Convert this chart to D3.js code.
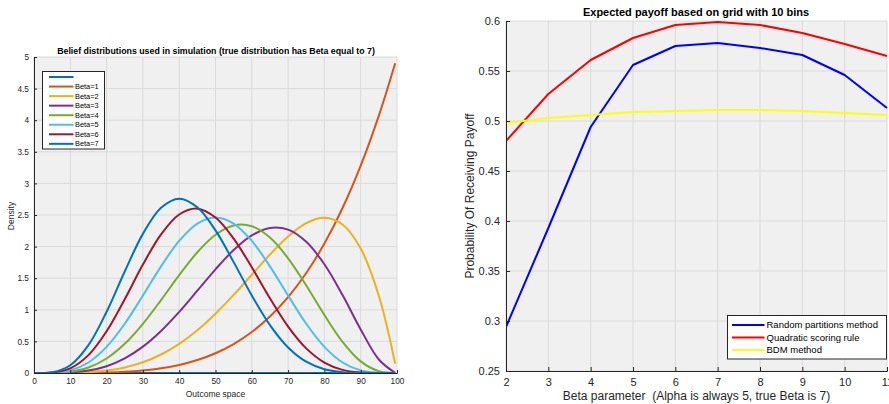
<!DOCTYPE html>
<html>
<head>
<meta charset="utf-8">
<script src="https://cdn.jsdelivr.net/npm/d3@7"></script>
<style>
  html, body { margin: 0; padding: 0; background: #fff; }
  svg { display: block; font-family: "Liberation Sans", Arial, Helvetica, sans-serif; }
  .pre { white-space: pre; }
</style>
</head>
<body>
<svg id="chart" width="889" height="404"></svg>
<script>
// ---------- Left chart data (belief densities over outcome space) ----------
const outcomeX = [0, 5, 10, 15, 20, 25, 30, 35, 40, 45, 50, 55, 60, 65, 70, 75, 80, 85, 90, 95, 99.5];
const betaBlank = [0,0,0,0,0,0,0,0,0,0,0,0,0,0,0,0,0,0,0,0,0];
const beta1 = [0, 0.00003, 0.0005, 0.0025, 0.008, 0.0195, 0.0405, 0.075, 0.128, 0.205, 0.3125, 0.4575, 0.648, 0.8925, 1.2005, 1.582, 2.048, 2.610, 3.2805, 4.0725, 4.9008];
const beta2 = [0, 0.00018, 0.0027, 0.0129, 0.0384, 0.0879, 0.1701, 0.2926, 0.4608, 0.6766, 0.9375, 1.2353, 1.5552, 1.8743, 2.1609, 2.3730, 2.4576, 2.3490, 1.9683, 1.2218, 0.1470];
const beta3 = [0, 0.0006, 0.0085, 0.0384, 0.1075, 0.2307, 0.4167, 0.6657, 0.9677, 1.3025, 1.6406, 1.9456, 2.1773, 2.2960, 2.2689, 2.0764, 1.7203, 1.2332, 0.6889, 0.2138, 0.0026];
const beta4 = [0, 0.0015, 0.0204, 0.0871, 0.2294, 0.4614, 0.7779, 1.1539, 1.5483, 1.9103, 2.1875, 2.3348, 2.3224, 2.1430, 1.8152, 1.3843, 0.9175, 0.4933, 0.1837, 0.0285, 0.0000];
const beta5 = [0, 0.0032, 0.0413, 0.1665, 0.4129, 0.7787, 1.2252, 1.6876, 2.0902, 2.3640, 2.4609, 2.3640, 2.0902, 1.6876, 1.2252, 0.7787, 0.4129, 0.1665, 0.0413, 0.0032, 0];
const beta6 = [0, 0.0061, 0.0744, 0.2830, 0.6606, 1.1680, 1.7153, 2.1939, 2.5082, 2.6005, 2.4609, 2.1272, 1.6721, 1.1813, 0.7351, 0.3895, 0.1652, 0.0499, 0.0083, 0.0003, 0];
const beta7 = [0, 0.0106, 0.1228, 0.4411, 0.9689, 1.6060, 2.2013, 2.6144, 2.7590, 2.6220, 2.2559, 1.7544, 1.2262, 0.7579, 0.4043, 0.1783, 0.0606, 0.0137, 0.0015, 0, 0];
const leftNames = ["", "Beta=1", "Beta=2", "Beta=3", "Beta=4", "Beta=5", "Beta=6", "Beta=7"];
const leftColors = ["#0072BD", "#D95319", "#EDB120", "#7E2F8E", "#77AC30", "#4DBEEE", "#A2142F", "#0072BD"];
const leftSeries = [betaBlank, beta1, beta2, beta3, beta4, beta5, beta6, beta7];
const leftXTicks = [0, 10, 20, 30, 40, 50, 60, 70, 80, 90, 100];
const leftYTicks = [0, 0.5, 1, 1.5, 2, 2.5, 3, 3.5, 4, 4.5, 5];

// ---------- Right chart data (expected payoff) ----------
const betaParam = [2, 3, 4, 5, 6, 7, 8, 9, 10, 11];
const randomPartitions = [0.294, 0.393, 0.494, 0.556, 0.575, 0.578, 0.573, 0.566, 0.546, 0.513];
const quadraticRule = [0.480, 0.527, 0.561, 0.583, 0.596, 0.599, 0.596, 0.588, 0.577, 0.565];
const bdmMethod = [0.498, 0.503, 0.506, 0.509, 0.510, 0.511, 0.511, 0.510, 0.508, 0.506];
const rightNames = ["Random partitions method", "Quadratic scoring rule", "BDM method"];
const rightColors = ["#0000FF", "#FF0000", "#FFFF00"];
const rightSeries = [randomPartitions, quadraticRule, bdmMethod];
const rightXTicks = [2, 3, 4, 5, 6, 7, 8, 9, 10, 11];
const rightYTicks = [0.25, 0.3, 0.35, 0.4, 0.45, 0.5, 0.55, 0.6];

const svg = d3.select("#chart");
const AX = "#262626";

function panel(cfg) {
  const g = svg.append("g");
  const x = d3.scaleLinear().domain(cfg.xDomain).range([cfg.left, cfg.right]);
  const y = d3.scaleLinear().domain(cfg.yDomain).range([cfg.bottom, cfg.top]);
  const clipId = "clip" + cfg.id;
  svg.append("clipPath").attr("id", clipId).append("rect")
    .attr("x", cfg.left).attr("y", cfg.top - 2)
    .attr("width", cfg.right - cfg.left + 2).attr("height", cfg.bottom - cfg.top + 2);

  g.append("rect").attr("x", cfg.left).attr("y", cfg.top)
    .attr("width", cfg.right - cfg.left).attr("height", cfg.bottom - cfg.top)
    .attr("fill", "#f0f0f0");
  // grid
  g.append("g").selectAll("line").data(cfg.xTicks).join("line")
    .attr("x1", d => x(d)).attr("x2", d => x(d))
    .attr("y1", cfg.top).attr("y2", cfg.bottom)
    .attr("stroke", "#dadada").attr("stroke-width", 1);
  g.append("g").selectAll("line").data(cfg.yTicks).join("line")
    .attr("y1", d => y(d)).attr("y2", d => y(d))
    .attr("x1", cfg.left).attr("x2", cfg.right)
    .attr("stroke", "#dadada").attr("stroke-width", 1);

  // lines
  const line = d3.line().curve(cfg.curve)
    .x(d => x(d[0])).y(d => y(Math.max(0, d[1])));
  const lg = g.append("g").attr("clip-path", `url(#${clipId})`);
  cfg.series.forEach((s, i) => {
    lg.append("path")
      .datum(cfg.xs.map((xv, j) => [xv, s[j]]))
      .attr("fill", "none").attr("stroke", cfg.colors[i])
      .attr("stroke-width", cfg.lw).attr("stroke-linejoin", "round")
      .attr("d", line);
  });

  // axes
  const xa = d3.axisBottom(x).tickValues(cfg.xTicks).tickSize(-cfg.tick).tickPadding(cfg.xPad)
    .tickFormat(d3.format("~g"));
  const ya = d3.axisLeft(y).tickValues(cfg.yTicks).tickSize(-cfg.tick).tickPadding(cfg.yPad)
    .tickFormat(d3.format("~g"));
  const gx = g.append("g").attr("transform", `translate(0,${cfg.bottom})`).call(xa);
  const gy = g.append("g").attr("transform", `translate(${cfg.left},0)`).call(ya);
  [gx, gy].forEach(a => {
    a.select(".domain").attr("stroke", AX).attr("stroke-width", 1);
    a.selectAll(".tick line").attr("stroke", AX);
    a.selectAll("text").attr("fill", AX).attr("font-size", cfg.fs)
      .attr("font-family", '"Liberation Sans", Arial, sans-serif');
  });

  // title & labels
  g.append("text").attr("x", cfg.titleX).attr("y", cfg.titleY)
    .attr("text-anchor", "middle").attr("font-weight", "bold")
    .attr("font-size", cfg.titleFs).attr("fill", "#000").text(cfg.title);
  g.append("text").attr("class", "pre").attr("x", (cfg.left + cfg.xLabelCx)).attr("y", cfg.xLabelY)
    .attr("text-anchor", "middle").attr("font-size", cfg.labelFs).attr("fill", AX)
    .text(cfg.xLabel);
  g.append("text").attr("transform", `translate(${cfg.yLabelX},${cfg.yLabelCy}) rotate(-90)`)
    .attr("text-anchor", "middle").attr("font-size", cfg.labelFs).attr("fill", AX)
    .text(cfg.yLabel);

  // legend
  const L = cfg.legend;
  const leg = g.append("g");
  leg.append("rect").attr("x", L.x).attr("y", L.y).attr("width", L.w).attr("height", L.h)
    .attr("fill", "#fff").attr("stroke", AX).attr("stroke-width", 1);
  cfg.names.forEach((n, i) => {
    const yy = L.y + L.first + i * L.step;
    leg.append("line").attr("x1", L.x + L.l1).attr("x2", L.x + L.l2)
      .attr("y1", yy).attr("y2", yy)
      .attr("stroke", cfg.colors[i]).attr("stroke-width", cfg.lw);
    leg.append("text").attr("x", L.x + L.tx).attr("y", yy).attr("dy", "0.35em")
      .attr("font-size", L.fs).attr("fill", "#000").text(n);
  });
}

panel({
  id: "L", left: 34, right: 397, top: 57, bottom: 373,
  xDomain: [0, 100], yDomain: [0, 5],
  xTicks: leftXTicks, yTicks: leftYTicks,
  xs: outcomeX, series: leftSeries, colors: leftColors, names: leftNames,
  curve: d3.curveCatmullRom.alpha(0.5), lw: 2, tick: 3, xPad: 5, yPad: 5, fs: 8.3,
  title: "Belief distributions used in simulation (true distribution has Beta equal to 7)",
  titleX: 216, titleY: 53.5, titleFs: 8.8,
  xLabel: "Outcome space", xLabelCx: 181.5, xLabelY: 396.5,
  yLabel: "Density", yLabelX: 14, yLabelCy: 216, labelFs: 8.5,
  legend: { x: 42.5, y: 71.5, w: 62, h: 77.5, first: 5.5, step: 9.55, l1: 6.5, l2: 31, tx: 32.5, fs: 7.4 }
});

panel({
  id: "R", left: 506, right: 887, top: 21, bottom: 371,
  xDomain: [2, 11], yDomain: [0.25, 0.6],
  xTicks: rightXTicks, yTicks: rightYTicks,
  xs: betaParam, series: rightSeries, colors: rightColors, names: rightNames,
  curve: d3.curveLinear, lw: 2, tick: 4, xPad: 7, yPad: 6, fs: 11,
  title: "Expected payoff based on grid with 10 bins",
  titleX: 696, titleY: 16, titleFs: 11,
  xLabel: "Beta parameter  (Alpha is always 5, true Beta is 7)", xLabelCx: 190.5, xLabelY: 399.5,
  yLabel: "Probability Of Receiving Payoff", yLabelX: 474, yLabelCy: 196, labelFs: 12,
  legend: { x: 727.5, y: 315.5, w: 159, h: 43.5, first: 9.5, step: 12.5, l1: 4.5, l2: 37, tx: 39, fs: 9.5 }
});
</script>
</body>
</html>
